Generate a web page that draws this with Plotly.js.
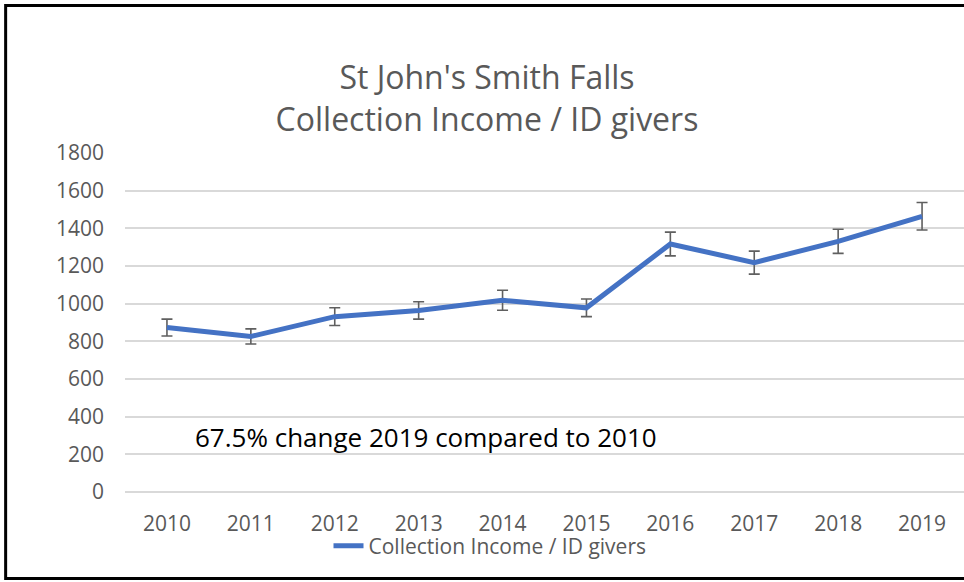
<!DOCTYPE html>
<html>
<head>
<meta charset="utf-8">
<script src="https://cdn.plot.ly/plotly-3.0.1.min.js"></script>
<style>
  html, body { margin: 0; padding: 0; background: #fff; }
  #chart { width: 964px; height: 582px; }
</style>
</head>
<body>
<div id="chart"></div>
<script>
const years = ['2010', '2011', '2012', '2013', '2014', '2015', '2016', '2017', '2018', '2019'];
const incomePerGiver = [873, 826, 931, 964, 1018, 978, 1317, 1218, 1331, 1464];
const errorAmounts = [45, 40, 47, 46, 53, 47, 63, 61, 64, 73];
const yTicks = [0, 200, 400, 600, 800, 1000, 1200, 1400, 1600, 1800];
const seriesName = 'Collection Income / ID givers';
const chartTitle = "St John's Smith Falls<br>Collection Income / ID givers";
const noteText = '67.5% change 2019 compared to 2010';

const FONT = "'Open Sans', 'Noto Sans', sans-serif";
const GREY = '#595959';

const L = 125, T = 153, B = 90, W = 964, H = 582;
const plotW = 840, plotH = H - T - B;
const px2x = p => (p - L) / plotW;
const px2y = p => (H - B - p) / plotH;

const trace = {
  x: years,
  y: incomePerGiver,
  type: 'scatter',
  mode: 'lines',
  name: seriesName,
  line: { color: '#4472C4', width: 5 },
  error_y: {
    type: 'data',
    array: errorAmounts,
    visible: true,
    color: '#5f5f5f',
    thickness: 1.6,
    width: 5.5
  },
  hoverinfo: 'x+y'
};

const layout = {
  width: W,
  height: H,
  margin: { l: L, r: 0, t: T, b: B },
  paper_bgcolor: '#ffffff',
  plot_bgcolor: '#ffffff',
  font: { family: FONT, color: GREY, size: 21 },
  title: {
    text: chartTitle,
    font: { family: FONT, size: 32, color: GREY },
    x: 487 / W,
    xref: 'container',
    xanchor: 'center',
    y: 1 - 89 / H,
    yref: 'container',
    yanchor: 'middle'
  },
  xaxis: {
    type: 'category',
    range: [-0.5, 9.5],
    showgrid: false,
    zeroline: false,
    showline: false,
    ticks: '',
    tickfont: { family: FONT, size: 21, color: GREY },
    ticklabelstandoff: 17,
    fixedrange: true
  },
  yaxis: {
    range: [0, 1800],
    tickmode: 'array',
    tickvals: yTicks,
    ticktext: yTicks.map(String),
    showgrid: true,
    gridcolor: '#d9d9d9',
    gridwidth: 1.6,
    zeroline: true,
    zerolinecolor: '#d9d9d9',
    zerolinewidth: 1.6,
    showline: false,
    ticks: '',
    tickfont: { family: FONT, size: 21, color: GREY },
    ticklabelstandoff: 20,
    fixedrange: true
  },
  showlegend: true,
  legend: {
    orientation: 'h',
    xref: 'container',
    yref: 'container',
    x: 490 / W,
    xanchor: 'center',
    y: 1 - 546 / H,
    yanchor: 'middle',
    font: { family: FONT, size: 21, color: GREY },
    bgcolor: 'rgba(0,0,0,0)'
  },
  annotations: [{
    text: noteText,
    xref: 'paper',
    yref: 'paper',
    x: px2x(426),
    y: px2y(437),
    xanchor: 'center',
    yanchor: 'middle',
    showarrow: false,
    font: { family: FONT, size: 26, color: '#000000' }
  }],
  shapes: [{
    type: 'rect',
    xref: 'paper',
    yref: 'paper',
    x0: px2x(5.5),
    x1: px2x(975),
    y0: px2y(578.5),
    y1: px2y(5.5),
    line: { color: '#000000', width: 3 },
    fillcolor: 'rgba(0,0,0,0)',
    layer: 'above'
  }]
};

Plotly.newPlot('chart', [trace], layout, { displayModeBar: false, responsive: false });
</script>
</body>
</html>
